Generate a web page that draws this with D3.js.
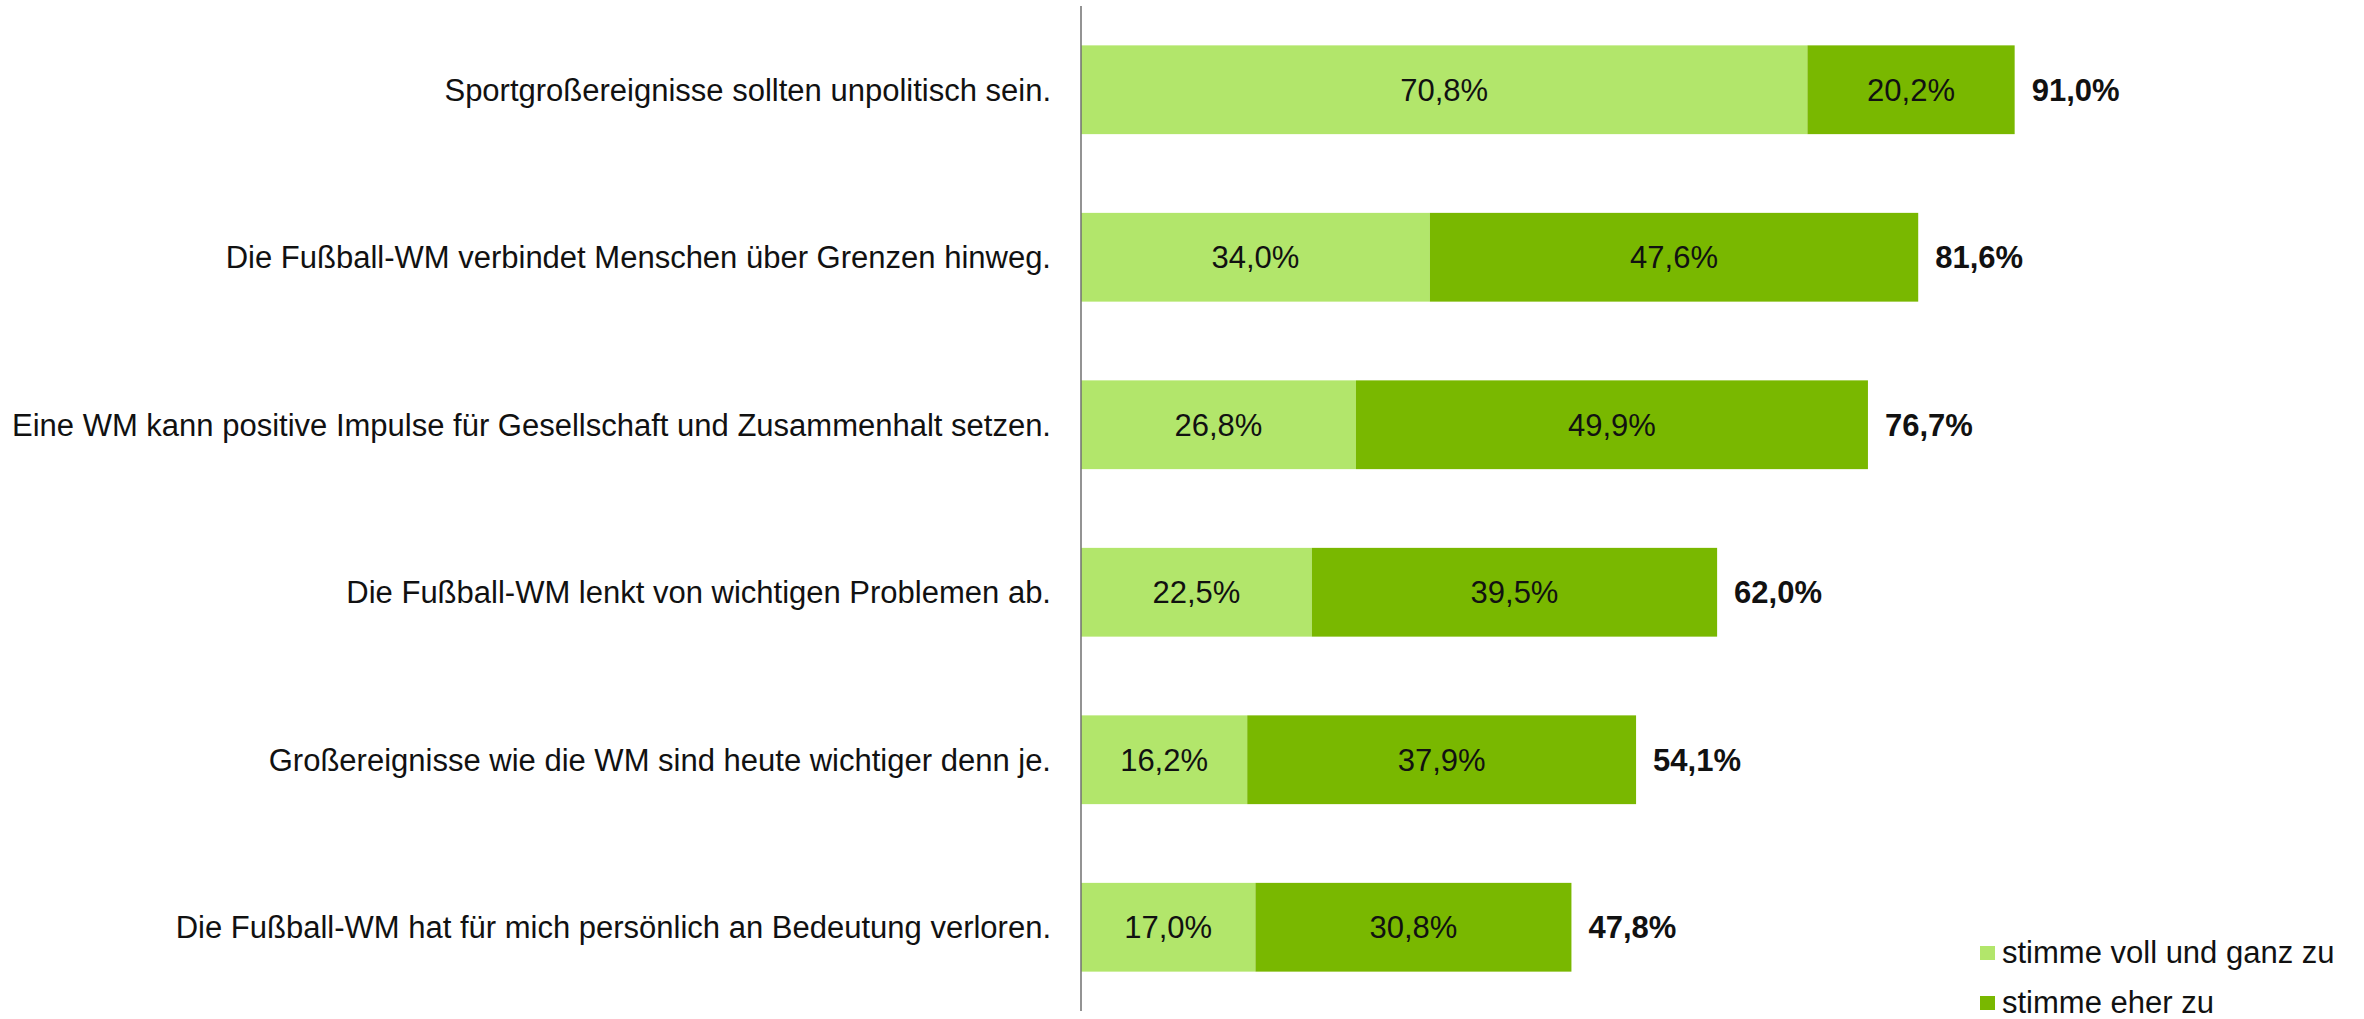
<!DOCTYPE html>
<html>
<head>
<meta charset="utf-8">
<script src="https://cdn.jsdelivr.net/npm/d3@7"></script>
<style>
	body { margin: 0; background: #fff; }
	svg { display: block; font-family: "Liberation Sans", Arial, sans-serif; }
</style>
</head>
<body>
<div id="chart"></div>
<script>
/* global d3 */

var categories = [
	"Sportgroßereignisse sollten unpolitisch sein.",
	"Die Fußball-WM verbindet Menschen über Grenzen hinweg.",
	"Eine WM kann positive Impulse für Gesellschaft und Zusammenhalt setzen.",
	"Die Fußball-WM lenkt von wichtigen Problemen ab.",
	"Großereignisse wie die WM sind heute wichtiger denn je.",
	"Die Fußball-WM hat für mich persönlich an Bedeutung verloren."
];
var vollUndGanz = [70.8, 34.0, 26.8, 22.5, 16.2, 17.0];
var eherZu = [20.2, 47.6, 49.9, 39.5, 37.9, 30.8];
var totals = [91.0, 81.6, 76.7, 62.0, 54.1, 47.8];
var seriesNames = ["stimme voll und ganz zu", "stimme eher zu"];

(function() {
	'use strict';

	var width = 2364,
		height = 1019,
		axisX = 1081,
		colors = ["#b2e66b", "#79b800"],
		fontSize = 31,
		fmt = function(v) { return d3.format(".1f")(v).replace(".", ",") + "%"; },
		x, y, svg, rows;

	x = d3.scaleLinear()
		.domain([0, 100])
		.range([axisX, axisX + 1026]);

	y = d3.scaleBand()
		.domain(categories)
		.range([6, 1011])
		.paddingInner(0.47)
		.paddingOuter(0.235);

	svg = d3.select("#chart")
		.append("svg")
		.attr("width", width)
		.attr("height", height);

	rows = categories.map(function(c, i) {
		return { cat: c, a: vollUndGanz[i], b: eherZu[i], total: totals[i] };
	});

	// segments
	var g = svg.append("g");
	rows.forEach(function(d) {
		var segs = [
			{ x0: 0, x1: d.a, v: d.a, color: colors[0] },
			{ x0: d.a, x1: d.a + d.b, v: d.b, color: colors[1] }
		];
		var row = g.append("g");
		row.selectAll("rect")
			.data(segs)
			.join("rect")
			.attr("x", function(s) { return x(s.x0); })
			.attr("width", function(s) { return x(s.x1) - x(s.x0); })
			.attr("y", y(d.cat))
			.attr("height", y.bandwidth())
			.attr("fill", function(s) { return s.color; });
		row.selectAll("text.val")
			.data(segs)
			.join("text")
			.attr("class", "val")
			.attr("x", function(s) { return (x(s.x0) + x(s.x1)) / 2; })
			.attr("y", y(d.cat) + y.bandwidth() / 2)
			.attr("dy", "0.35em")
			.attr("text-anchor", "middle")
			.attr("font-size", fontSize)
			.attr("fill", "#111")
			.text(function(s) { return fmt(s.v); });
		row.append("text")
			.attr("x", x(d.a + d.b) + 17)
			.attr("y", y(d.cat) + y.bandwidth() / 2)
			.attr("dy", "0.35em")
			.attr("font-size", fontSize)
			.attr("font-weight", "bold")
			.attr("fill", "#111")
			.text(fmt(d.total));
		row.append("text")
			.attr("x", axisX - 30)
			.attr("y", y(d.cat) + y.bandwidth() / 2)
			.attr("dy", "0.35em")
			.attr("text-anchor", "end")
			.attr("font-size", fontSize)
			.attr("fill", "#111")
			.text(d.cat);
	});

	// vertical axis line
	svg.append("line")
		.attr("x1", axisX).attr("x2", axisX)
		.attr("y1", 6).attr("y2", 1011)
		.attr("stroke", "#6f6f6f")
		.attr("stroke-width", 1.5);

	// legend
	var legend = svg.append("g")
		.selectAll("g")
		.data(seriesNames)
		.join("g")
		.attr("transform", function(d, i) { return "translate(1980," + (946 + i * 50) + ")"; });
	legend.append("rect")
		.attr("width", 15)
		.attr("height", 14)
		.attr("fill", function(d, i) { return colors[i]; });
	legend.append("text")
		.attr("x", 22)
		.attr("y", 17)
		.attr("font-size", fontSize)
		.attr("fill", "#111")
		.text(function(d) { return d; });
})();
</script>
</body>
</html>
